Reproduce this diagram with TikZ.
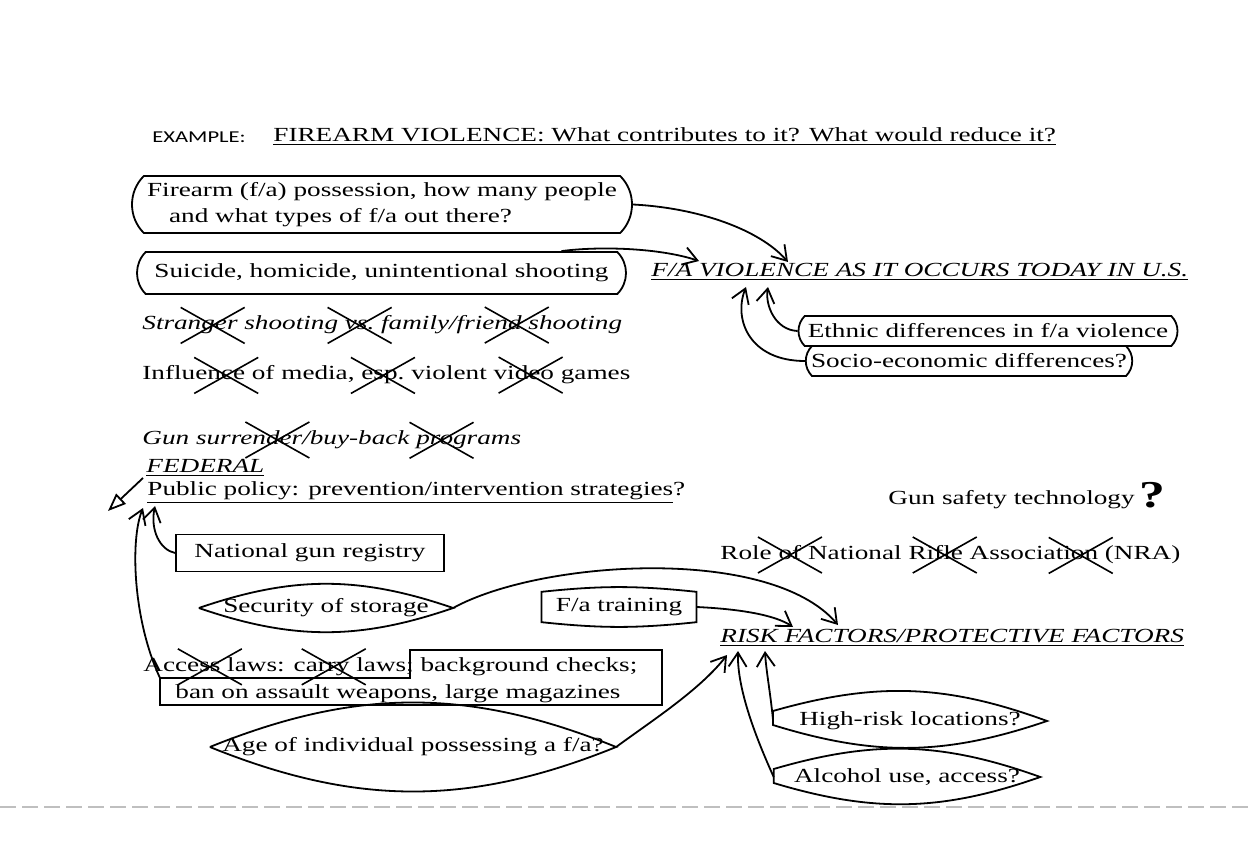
\documentclass[tikz,border=0pt]{standalone}
\usepackage{fontspec}
\setmainfont{Liberation Serif}[FakeStretch=1.36]
\newfontfamily\labelfont{Carlito}[FakeStretch=1.36]
\usetikzlibrary{shapes.misc, arrows.meta}
\tikzset{
    txt/.style={anchor=west, inner sep=0pt, font=\fontsize{10}{13.5}\selectfont},
    itxt/.style={txt, font=\itshape\fontsize{10}{13.5}\selectfont},
    pill/.style={draw, rounded rectangle, rounded rectangle arc length=90, line width=0.9pt, inner xsep=2pt, inner ysep=2pt, font=\fontsize{10}{13}\selectfont},
    plain/.style={draw, rectangle, line width=0.9pt, inner xsep=4pt, inner ysep=2pt, font=\fontsize{10}{13}\selectfont},
    lens/.style={inner ysep=2.5pt, font=\fontsize{10}{13}\selectfont},
    outline/.style={line width=0.9pt},
    arrow/.style={line width=0.9pt, -{Straight Barb[length=7pt,width=9pt]}},
    xmark/.style={line width=0.8pt}
}
% crossed-out words
\newcommand{\xout}[1]{\tikz[baseline=(w.base)]{\node[draw=none, shape=rectangle, inner sep=0pt, outer sep=0pt, anchor=base] (w) {\vphantom{Ag}#1};
  \draw[xmark, overlay] ([shift={(-16pt,-9pt)}]w.center) -- ([shift={(16pt,9pt)}]w.center)
    ([shift={(-16pt,9pt)}]w.center) -- ([shift={(16pt,-9pt)}]w.center);}}

\begin{document}
\begin{tikzpicture}[x=0.5pt, y=-0.5pt]
\useasboundingbox (0,0) rectangle (1248,845);

% heading
\node[anchor=west, inner sep=0pt, font=\labelfont\fontsize{8.3}{10}\selectfont] (exa) at (152,137) {EXAMPLE:};
\node[txt] (head) at (273,137) {\underline{FIREARM VIOLENCE: What contributes to it? What would reduce it?}};

% violence today
\node[pill, minimum width=254pt, minimum height=28.5pt, align=left] (fa) at (382,204.5) {Firearm (f/a) possession, how many people\\\hspace{11pt}and what types of f/a out there?};
\node[pill, minimum width=248.5pt, minimum height=21pt] (sui) at (381.5,273) {Suicide, homicide, unintentional shooting};
\node[itxt] (fav) at (651,272) {\underline{F/A VIOLENCE AS IT OCCURS TODAY IN U.S.}};
\node[pill, minimum width=193.5pt, minimum height=15pt] (eth) at (988,331) {Ethnic differences in f/a violence};
\node[pill, minimum height=15pt] (soc) at (969,361) {Socio-economic differences?};

\node[itxt] (str) at (142,325) {Stra\xout{nger} shooting \xout{vs.} family/frie\xout{nd s}hooting};
\node[txt] (inf) at (142,375) {Influe\xout{nce} of media, \xout{esp.} violent v\xout{ideo} games};
\node[itxt] (gun) at (142,440) {Gun surre\xout{nder}/buy-back \xout{prog}rams};
\node[itxt] (fed) at (146,468) {\underline{FEDERAL}};
\node[txt] (pub) at (147,493) {\underline{Public policy: prevention/intervention strategies}?};
\node[txt] (gst) at (888,500) {Gun safety technology};
\node[anchor=base west, inner sep=0pt, font=\bfseries\fontsize{19}{19}\selectfont] (qm) at ([xshift=2pt,yshift=-1.5pt]gst.base east) {?};

% policy measures
\node[plain, minimum width=134pt, minimum height=18.5pt] (ngr) at (310,553) {National gun registry};
\node[txt] (nra) at (720,555) {Role \xout{of} National R\xout{ifle} Associat\xout{ion} (NRA)};
\node[lens, inner xsep=12pt] (sec) at (326,608) {Security of storage};
\node[lens, inner xsep=7pt, inner ysep=3pt] (trn) at (619,607) {F/a training};
\node[itxt] (risk) at (720,638) {\underline{RISK FACTORS/PROTECTIVE FACTORS}};
\node[txt, align=left] (acc) at (143,680) {Acce\xout{ss} laws: ca\xout{rry} laws; background checks;\\\hspace{16pt}ban on assault weapons, large magazines};
\node[lens, inner xsep=6pt] (age) at (413,747) {Age of individual possessing a f/a?};
\node[lens, inner xsep=13pt] (hr) at (910,721) {High-risk locations?};
\node[lens, inner xsep=10pt] (alc) at (907,777) {Alcohol use, access?};

% outlines
\draw[outline] (sec.west) to[bend left=19] (sec.east) to[bend left=19] (sec.west);
\draw[outline] (age.west) to[bend left=22] (age.east) to[bend left=22] (age.west);
\draw[outline] ([yshift=5pt]hr.west) to[bend left=18] (hr.east) to[bend left=18] ([yshift=-2pt]hr.west) -- cycle;
\draw[outline] ([yshift=4pt]alc.west) to[bend left=18] (alc.east) to[bend left=18] ([yshift=-3pt]alc.west) -- cycle;
\draw[outline] (trn.north west) to[bend left=6] (trn.north east) -- (trn.south east) to[bend left=6] (trn.south west) -- cycle;
\coordinate (acc-corner) at (160,678);
\draw[outline] (410,650) -- (662,650) -- (662,705) -- (160,705) -- (acc-corner) -- (410,678) -- cycle;

% arrow targets
\coordinate (sui-top) at ([xshift=90pt]sui.north);
\coordinate (fav-v) at (699,261);
\coordinate (fav-n) at (788,262);
\coordinate (fav-l) at (746,287);
\coordinate (fav-e) at (768,287);
\coordinate (pub-p1) at (143,508);
\coordinate (pub-p2) at (155,506);
\coordinate (fed-tail) at (143,478);
\coordinate (fed-tip) at (108,511);
\coordinate (risk-c) at (838,625);
\coordinate (risk-f) at (793,627);
\coordinate (risk-i) at (727,655);
\coordinate (risk-s) at (738,651);
\coordinate (risk-k) at (765,651);

% arrows
\draw[arrow] (fa.east) .. controls (700,208) and (760,230) .. (fav-n);
\draw[arrow] (sui-top) .. controls (600,246) and (660,248) .. (fav-v);
\draw[arrow] (eth.west) .. controls (775,330) and (765,305) .. (fav-e);
\draw[arrow] (soc.west) .. controls (750,361) and (733,320) .. (fav-l);
\draw[arrow] (ngr.west) .. controls (160,550) and (150,530) .. (pub-p2);
\draw[arrow] (acc-corner) .. controls (133,620) and (130,540) .. (pub-p1);
\draw[line width=0.9pt, -{Triangle[open,length=9pt,width=7pt]}] (fed-tail) -- (fed-tip);
\draw[arrow] (sec.east) .. controls (540,560) and (770,545) .. (risk-c);
\draw[arrow] (trn.east) .. controls (740,609) and (775,615) .. (risk-f);
\draw[arrow] (age.east) .. controls (650,722) and (700,690) .. (risk-i);
\draw[arrow] (alc.west) .. controls (757,740) and (737,690) .. (risk-s);
\draw[arrow] ([yshift=1pt]hr.west) .. controls (770,690) and (766,670) .. (risk-k);

% scan edge
\draw[gray!50, dash pattern=on 8pt off 3pt, line width=0.6pt] (0,807) -- (1248,807);
\end{tikzpicture}
\end{document}
